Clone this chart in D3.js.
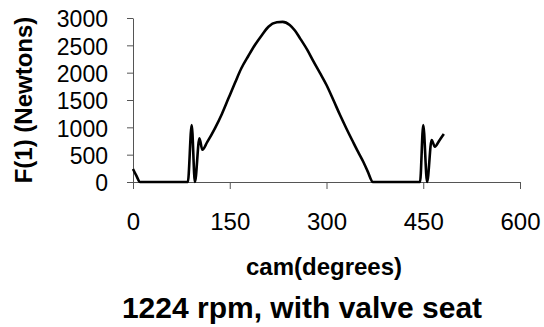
<!DOCTYPE html>
<html>
<head>
<meta charset="utf-8">
<script src="https://cdn.jsdelivr.net/npm/d3@7/dist/d3.min.js"></script>
<style>
  body { margin: 0; background: #fff; }
  text { font-family: "Liberation Sans", Arial, sans-serif; }
</style>
</head>
<body>
<div id="chart"></div>
<script>
// cam angle (degrees) and force F(1) in Newtons
var camDeg = [0, 5, 11, 40, 85, 91, 96, 103, 107.5, 115, 127, 138, 148, 158, 168, 179, 189, 200, 210, 223, 232,
    243, 251, 259, 270, 280, 290, 300, 311, 321, 331, 341, 349, 357, 364, 372, 410, 445, 450, 456, 463, 468, 475, 482];
var force = [238, 120, 0, 0, 0, 1043, 0, 800, 590, 730, 982, 1250, 1531, 1810, 2080, 2310, 2506, 2690, 2841, 2921, 2930,
    2872, 2770, 2628, 2420, 2200, 1990, 1774, 1490, 1225, 975, 737, 550, 371, 190, 0, 0, 0, 1043, 0, 768, 646, 760, 878];

var xTicks = [0, 150, 300, 450, 600];
var yTicks = [0, 500, 1000, 1500, 2000, 2500, 3000];

var xTitle = "cam(degrees)";
var yTitle = "F(1) (Newtons)";
var chartTitle = "1224 rpm, with valve seat";

var width = 544, height = 327;

var svg = d3.select("#chart")
    .append("svg")
    .attr("width", width)
    .attr("height", height);

var x = d3.scaleLinear().domain([0, 600]).range([133, 520]);
var y = d3.scaleLinear().domain([0, 3000]).range([182, 18]);

var points = camDeg.map(function(d, i) {
    return { deg: d, f: force[i] };
});

// axes
var xAxis = svg.append("g")
    .attr("transform", "translate(0," + y(0) + ")")
    .call(d3.axisBottom(x).tickValues(xTicks).tickFormat(d3.format("d"))
        .tickSizeOuter(0).tickSizeInner(7).tickPadding(24));
xAxis.select(".domain").attr("stroke", "#555");
xAxis.selectAll(".tick line").attr("stroke", "#555");
xAxis.selectAll(".tick text")
    .attr("font-size", "24px")
    .attr("fill", "#000")
    .attr("font-family", "Liberation Sans, Arial, sans-serif");

var yAxis = svg.append("g")
    .attr("transform", "translate(" + x(0) + ",0)")
    .call(d3.axisLeft(y).tickValues(yTicks).tickFormat(d3.format("d"))
        .tickSizeOuter(0).tickSizeInner(6).tickPadding(19));
yAxis.select(".domain").attr("stroke", "#555");
yAxis.selectAll(".tick line").attr("stroke", "#555");
yAxis.selectAll(".tick text")
    .attr("font-size", "23px")
    .attr("fill", "#000")
    .attr("dy", "0.38em")
    .attr("font-family", "Liberation Sans, Arial, sans-serif");

// force curve
var line = d3.line()
    .x(function(d) { return x(d.deg); })
    .y(function(d) { return y(d.f); })
    .curve(d3.curveMonotoneX);

svg.append("path")
    .datum(points)
    .attr("fill", "none")
    .attr("stroke", "#000")
    .attr("stroke-width", 2.6)
    .attr("stroke-linejoin", "round")
    .attr("d", line);

// titles
svg.append("text")
    .attr("x", 324)
    .attr("y", 275)
    .attr("text-anchor", "middle")
    .attr("font-size", "24px")
    .attr("font-weight", "bold")
    .text(xTitle);

svg.append("text")
    .attr("transform", "translate(32,100) rotate(-90)")
    .attr("text-anchor", "middle")
    .attr("font-size", "24px")
    .attr("font-weight", "bold")
    .text(yTitle);

svg.append("text")
    .attr("x", 302)
    .attr("y", 318)
    .attr("text-anchor", "middle")
    .attr("font-size", "30px")
    .attr("font-weight", "bold")
    .text(chartTitle);
</script>
</body>
</html>
